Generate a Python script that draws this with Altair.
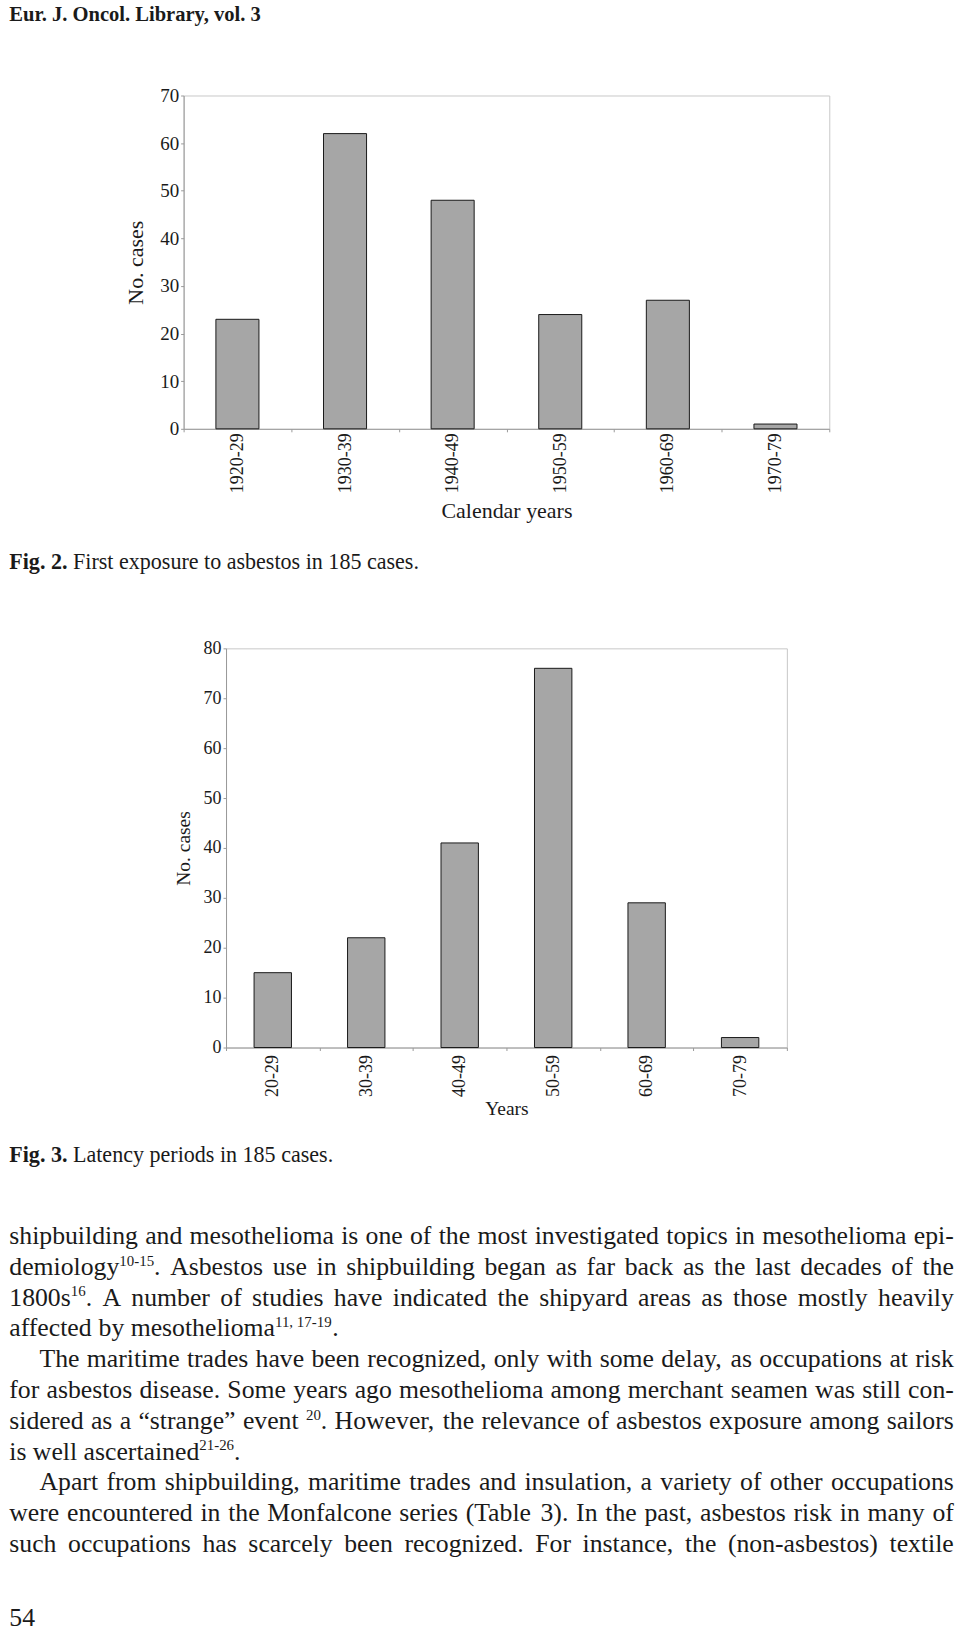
import re
import altair as alt
import pandas as pd

# ---------------- data ----------------
header_text = "Eur. J. Oncol. Library, vol. 3"

periods1 = ["1920-29", "1930-39", "1940-49", "1950-59", "1960-69", "1970-79"]
cases1 = [23, 62, 48, 24, 27, 1]
yticks1 = [0, 10, 20, 30, 40, 50, 60, 70]

periods2 = ["20-29", "30-39", "40-49", "50-59", "60-69", "70-79"]
cases2 = [15, 22, 41, 76, 29, 2]
yticks2 = [0, 10, 20, 30, 40, 50, 60, 70, 80]

cap2_bold = "Fig. 2."
cap2_text = "First exposure to asbestos in 185 cases."
cap3_bold = "Fig. 3."
cap3_text = "Latency periods in 185 cases."

# {...} marks superscript
body_lines = [
    "shipbuilding and mesothelioma is one of the most investigated topics in mesothelioma epi-",
    "demiology{10-15}. Asbestos use in shipbuilding began as far back as the last decades of the",
    "1800s{16}. A number of studies have indicated the shipyard areas as those mostly heavily",
    "affected by mesothelioma{11, 17-19}.",
    "The maritime trades have been recognized, only with some delay, as occupations at risk",
    "for asbestos disease. Some years ago mesothelioma among merchant seamen was still con-",
    "sidered as a \u201cstrange\u201d event {20}. However, the relevance of asbestos exposure among sailors",
    "is well ascertained{21-26}.",
    "Apart from shipbuilding, maritime trades and insulation, a variety of other occupations",
    "were encountered in the Monfalcone series (Table 3). In the past, asbestos risk in many of",
    "such occupations has scarcely been recognized. For instance, the (non-asbestos) textile",
]
body_justify = [True, True, True, False, True, True, True, False, True, True, True]
body_indent = [False, False, False, False, True, False, False, False, True, False, False]
page_number = "54"

# ---------------- layout ----------------
PAGE_W, PAGE_H, SPLIT = 960, 1635, 600
W1, H1 = 647, 334
W2, H2 = 562, 400
O1 = (183, 93)
SPACING = 647 - O1[1] - H1
O2 = (O1[0] + (W1 - W2) / 2.0, O1[1] + H1 + SPACING)
LEFT, RIGHT, INDENT = 8.3, 954.8, 30.3
BODY_Y0, BODY_DY = 1244, 30.85
SUP_SCALE, SUP_RAISE = 0.58, 0.36
FONT = "Liberation Serif"
INK = "#1a1a1a"

# Times-compatible advance widths (per 1000 em)
_up_r = dict(zip("ABCDEFGHIJKLMNOPQRSTUVWXYZ",
                 [722, 667, 667, 722, 611, 556, 722, 722, 333, 389, 722, 611, 889,
                  722, 722, 556, 722, 667, 556, 611, 722, 722, 944, 722, 722, 611]))
_lo_r = dict(zip("abcdefghijklmnopqrstuvwxyz",
                 [444, 500, 444, 500, 444, 333, 500, 500, 278, 278, 500, 278, 778,
                  500, 500, 500, 500, 333, 389, 278, 500, 500, 722, 500, 500, 444]))
_up_b = dict(zip("ABCDEFGHIJKLMNOPQRSTUVWXYZ",
                 [722, 667, 722, 722, 667, 611, 778, 778, 389, 500, 778, 667, 944,
                  722, 778, 611, 778, 722, 556, 667, 722, 722, 1000, 722, 722, 667]))
_lo_b = dict(zip("abcdefghijklmnopqrstuvwxyz",
                 [500, 556, 444, 556, 444, 333, 500, 556, 278, 333, 556, 278, 833,
                  556, 500, 556, 556, 444, 389, 333, 556, 500, 722, 500, 500, 444]))
_punct = {" ": 250, ",": 250, ".": 250, "-": 333, "(": 333, ")": 333, ":": 278,
          ";": 278, "\u201c": 444, "\u201d": 444, "'": 333, "?": 444}
for d in "0123456789":
    _punct[d] = 500
REG = {**_up_r, **_lo_r, **_punct}
BOLD = {**_up_b, **_lo_b, **_punct}


def tw(s, fs, bold=False):
    t = BOLD if bold else REG
    return sum(t.get(c, 500) for c in s) / 1000.0 * fs


def tokens(line):
    return re.findall(r"(?:\{[^}]*\}|[^\s{])+", line)


def segments(word):
    out = []
    for p in re.split(r"(\{[^}]*\})", word):
        if not p:
            continue
        if p.startswith("{"):
            out.append((p[1:-1], True))
        else:
            out.append((p, False))
    return out


def word_w(word, fs):
    return sum(tw(s, fs * SUP_SCALE if sup else fs) for s, sup in segments(word))


# body font size: tightest justified line fits with normal spaces
ratios = []
for line, j, ind in zip(body_lines, body_justify, body_indent):
    if j:
        toks = tokens(line)
        nat = sum(word_w(t, 1.0) for t in toks) + (len(toks) - 1) * 0.25
        ratios.append((RIGHT - LEFT - (INDENT if ind else 0)) / nat)
BODY_FS = min(ratios) * 0.99

reg_rows2, bold_rows2 = [], []
reg_rows1, bold_rows1 = [], []

for i, (line, j, ind) in enumerate(zip(body_lines, body_justify, body_indent)):
    y = BODY_Y0 + i * BODY_DY
    x0 = LEFT + (INDENT if ind else 0)
    toks = tokens(line)
    widths = [word_w(t, BODY_FS) for t in toks]
    if j and len(toks) > 1:
        gap = (RIGHT - x0 - sum(widths)) / (len(toks) - 1)
    else:
        gap = tw(" ", BODY_FS)
    x = x0
    for t, w in zip(toks, widths):
        xx = x
        for s, sup in segments(t):
            fs = BODY_FS * SUP_SCALE if sup else BODY_FS
            yy = y - (BODY_FS * SUP_RAISE if sup else 0)
            reg_rows2.append({"text": s, "x": xx - O2[0], "y": yy - O2[1], "size": fs})
            xx += tw(s, fs)
        x += w + gap

# page number
reg_rows2.append({"text": page_number, "x": LEFT - O2[0], "y": 1627 - O2[1], "size": BODY_FS})

# captions
CAP_FS = 22.1
bold_rows1.append({"text": cap2_bold, "x": LEFT - O1[0], "y": 567 - O1[1], "size": CAP_FS})
reg_rows1.append({"text": cap2_text,
                  "x": LEFT + tw(cap2_bold + " ", CAP_FS, True) - O1[0],
                  "y": 567 - O1[1], "size": CAP_FS})
bold_rows2.append({"text": cap3_bold, "x": LEFT - O2[0], "y": 1162 - O2[1], "size": CAP_FS})
reg_rows2.append({"text": cap3_text,
                  "x": LEFT + tw(cap3_bold + " ", CAP_FS, True) - O2[0],
                  "y": 1162 - O2[1], "size": CAP_FS})

# header
bold_rows1.append({"text": header_text, "x": LEFT - O1[0], "y": 18 - O1[1], "size": 20.6})


def text_layer(rows, bold):
    return alt.Chart(pd.DataFrame(rows)).mark_text(
        align="left", baseline="alphabetic", font=FONT, color=INK,
        fontWeight="bold" if bold else "normal"
    ).encode(
        x=alt.X("x:Q", scale=None, axis=None),
        y=alt.Y("y:Q", scale=None, axis=None),
        size=alt.Size("size:Q", scale=None, legend=None),
        text="text:N",
    )


def frame(origin, top, bottom):
    return alt.Chart(pd.DataFrame({"k": [0]})).mark_rect(opacity=0).encode(
        x=alt.value(-origin[0]), x2=alt.value(PAGE_W - origin[0]),
        y=alt.value(top - origin[1]), y2=alt.value(bottom - origin[1]),
    )


def bars(periods, cases, ymax, yticks, xtitle, xlab_fs, ylab_fs, title_fs, ytp, xtp, xlp):
    df = pd.DataFrame({"period": periods, "cases": cases})
    common = dict(labelFont=FONT, titleFont=FONT, labelColor=INK, titleColor=INK,
                  titleFontSize=title_fs, titleFontWeight="normal",
                  domainColor="#9a9a9a", tickColor="#9a9a9a", tickSize=3, domainWidth=1)
    return alt.Chart(df).mark_bar(
        fill="#a6a6a6", stroke="#1a1a1a", strokeWidth=1,
        width=alt.RelativeBandSize(0.4),
    ).encode(
        x=alt.X("period:N", sort=periods, title=xtitle,
                scale=alt.Scale(paddingInner=0, paddingOuter=0),
                axis=alt.Axis(labelAngle=-90, tickBand="extent", labelPadding=xlp,
                              labelFontSize=xlab_fs, titlePadding=xtp, **common)),
        y=alt.Y("cases:Q", title="No. cases",
                scale=alt.Scale(domain=[0, ymax], nice=False),
                axis=alt.Axis(values=yticks, grid=False, labelPadding=2,
                              labelFontSize=ylab_fs, titlePadding=ytp, **common)),
    )


b1 = bars(periods1, cases1, 70, yticks1, "Calendar years", 18, 19, 22, 12, 8, 1)
b2 = bars(periods2, cases2, 80, yticks2, "Years", 18, 18, 19.5, 10, 3, 4)

c1 = alt.layer(
    frame(O1, 0, SPLIT), b1, text_layer(reg_rows1, False), text_layer(bold_rows1, True)
).resolve_scale(x="independent", y="independent").properties(width=W1, height=H1)

c2 = alt.layer(
    frame(O2, SPLIT, PAGE_H), b2, text_layer(reg_rows2, False), text_layer(bold_rows2, True)
).resolve_scale(x="independent", y="independent").properties(width=W2, height=H2)

chart = alt.vconcat(c1, c2, spacing=SPACING, bounds="flush", center=True).properties(
    padding=0, background="white"
).configure_view(stroke="#c8c8c8", strokeWidth=1)

chart.save("out.html", embed_options={"renderer": "svg", "actions": False})
